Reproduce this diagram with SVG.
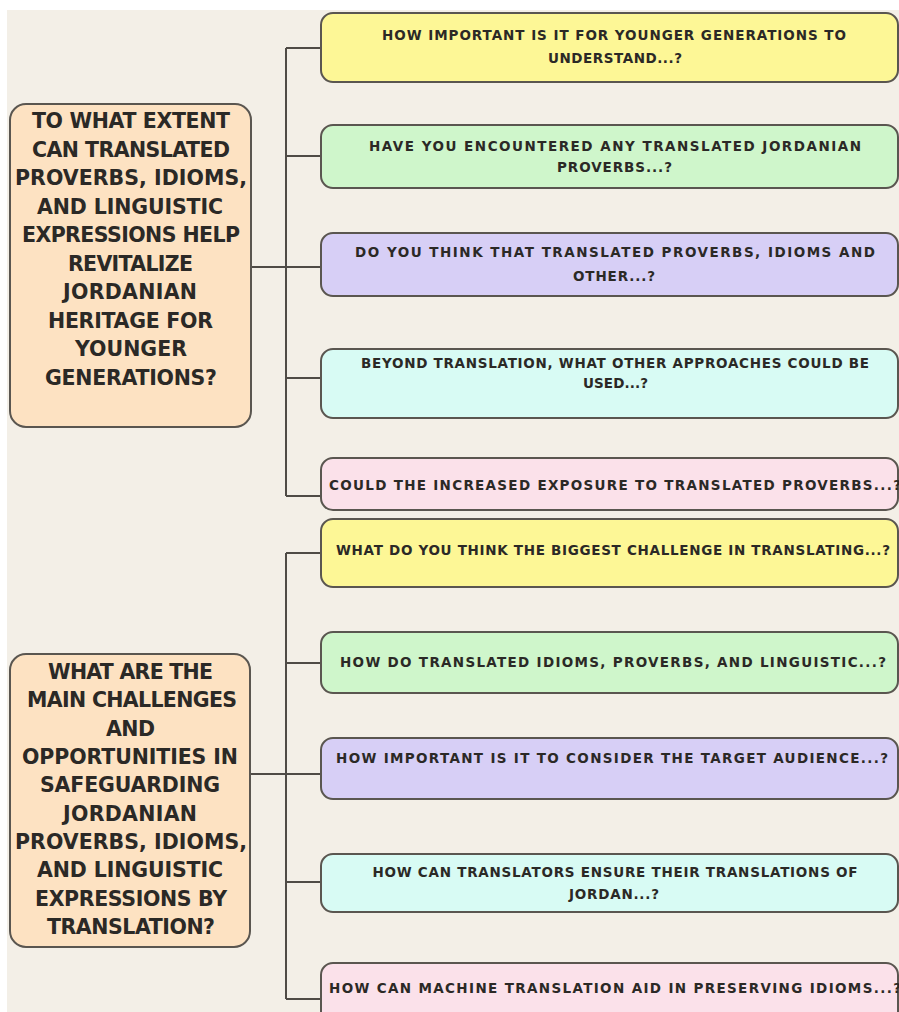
<svg xmlns="http://www.w3.org/2000/svg" width="899" height="1012" viewBox="0 0 899 1012">
<style>
.bg{fill:#f3efe7}
.main{fill:#fde2c2;stroke:#5a5650;stroke-width:2}
.q{stroke:#5a5650;stroke-width:2}
.yel{fill:#fdf796}.grn{fill:#cff6cb}.pur{fill:#d7cff6}.cyn{fill:#d8fbf4}.pnk{fill:#fbe1ea}
.lt{font-family:"DejaVu Sans","Liberation Sans",sans-serif;font-weight:bold;font-size:20.5px;fill:#2b2926;text-anchor:middle}
.st{font-family:"DejaVu Sans","Liberation Sans",sans-serif;font-weight:bold;font-size:13.5px;fill:#2b2926;text-anchor:middle}
.sl{text-anchor:start}
.conn{fill:none;stroke:#4f4b46;stroke-width:2}
</style>
<rect x="0" y="0" width="899" height="1012" fill="#ffffff"/>
<rect class="bg" x="7" y="10" width="892" height="1002"/>
<g id="connectors">
<path class="conn" d="M251,267H286M286,48V496M286,48H321M286,156H321M286,267H321M286,378H321M286,496H321"/>
<path class="conn" d="M250,774H286M286,553V999M286,553H321M286,663H321M286,774H321M286,882H321M286,999H321"/>
</g>
<g id="main1">
<rect class="main" x="10" y="104" width="241" height="323" rx="16"/>
<text class="lt" x="131" y="128" textLength="198" lengthAdjust="spacing">TO WHAT EXTENT</text>
<text class="lt" x="131" y="156.5" textLength="198" lengthAdjust="spacing">CAN TRANSLATED</text>
<text class="lt" x="131" y="185" textLength="232" lengthAdjust="spacing">PROVERBS, IDIOMS,</text>
<text class="lt" x="130" y="213.5" textLength="186" lengthAdjust="spacing">AND LINGUISTIC</text>
<text class="lt" x="131" y="242" textLength="218" lengthAdjust="spacing">EXPRESSIONS HELP</text>
<text class="lt" x="130.5" y="270.5" textLength="125" lengthAdjust="spacing">REVITALIZE</text>
<text class="lt" x="130" y="299" textLength="134" lengthAdjust="spacing">JORDANIAN</text>
<text class="lt" x="130.5" y="327.5" textLength="165" lengthAdjust="spacing">HERITAGE FOR</text>
<text class="lt" x="131" y="356" textLength="112" lengthAdjust="spacing">YOUNGER</text>
<text class="lt" x="131" y="384.5" textLength="172" lengthAdjust="spacing">GENERATIONS?</text>
</g>
<g id="main2">
<rect class="main" x="10" y="654" width="240" height="293" rx="16"/>
<text class="lt" x="130.5" y="679" textLength="165" lengthAdjust="spacing">WHAT ARE THE</text>
<text class="lt" x="132" y="707.3" textLength="210" lengthAdjust="spacing">MAIN CHALLENGES</text>
<text class="lt" x="130.5" y="735.6" textLength="49" lengthAdjust="spacing">AND</text>
<text class="lt" x="130" y="764" textLength="216" lengthAdjust="spacing">OPPORTUNITIES IN</text>
<text class="lt" x="130" y="792.3" textLength="180" lengthAdjust="spacing">SAFEGUARDING</text>
<text class="lt" x="130" y="820.6" textLength="134" lengthAdjust="spacing">JORDANIAN</text>
<text class="lt" x="131" y="849" textLength="232" lengthAdjust="spacing">PROVERBS, IDIOMS,</text>
<text class="lt" x="130" y="877.3" textLength="186" lengthAdjust="spacing">AND LINGUISTIC</text>
<text class="lt" x="131" y="905.6" textLength="192" lengthAdjust="spacing">EXPRESSIONS BY</text>
<text class="lt" x="131" y="934" textLength="168" lengthAdjust="spacing">TRANSLATION?</text>
</g>
<g id="q1">
<rect class="q yel" x="321" y="13" width="577" height="69" rx="12"/>
<text class="st" x="614" y="40" textLength="464" lengthAdjust="spacing">HOW IMPORTANT IS IT FOR YOUNGER GENERATIONS TO</text>
<text class="st" x="615" y="62.5" textLength="134" lengthAdjust="spacing">UNDERSTAND...?</text>
</g>
<g id="q2">
<rect class="q grn" x="321" y="125" width="577" height="63" rx="12"/>
<text class="st" x="615" y="150.5" textLength="492" lengthAdjust="spacing">HAVE YOU ENCOUNTERED ANY TRANSLATED JORDANIAN</text>
<text class="st" x="614.5" y="171.5" textLength="115" lengthAdjust="spacing">PROVERBS...?</text>
</g>
<g id="q3">
<rect class="q pur" x="321" y="233" width="577" height="63" rx="12"/>
<text class="st" x="615" y="257" textLength="520" lengthAdjust="spacing">DO YOU THINK THAT TRANSLATED PROVERBS, IDIOMS AND</text>
<text class="st" x="614" y="280.5" textLength="82" lengthAdjust="spacing">OTHER...?</text>
</g>
<g id="q4">
<rect class="q cyn" x="321" y="349" width="577" height="69" rx="12"/>
<text class="st" x="615" y="368" textLength="508" lengthAdjust="spacing">BEYOND TRANSLATION, WHAT OTHER APPROACHES COULD BE</text>
<text class="st" x="615.5" y="388" textLength="65" lengthAdjust="spacing">USED...?</text>
</g>
<g id="q5">
<rect class="q pnk" x="321" y="458" width="577" height="52" rx="12"/>
<text class="st sl" x="329" y="490" textLength="572" lengthAdjust="spacing">COULD THE INCREASED EXPOSURE TO TRANSLATED PROVERBS...?</text>
</g>
<g id="q6">
<rect class="q yel" x="321" y="519" width="577" height="68" rx="12"/>
<text class="st" x="613" y="555" textLength="554" lengthAdjust="spacing">WHAT DO YOU THINK THE BIGGEST CHALLENGE IN TRANSLATING...?</text>
</g>
<g id="q7">
<rect class="q grn" x="321" y="632" width="577" height="61" rx="12"/>
<text class="st" x="613" y="666.5" textLength="546" lengthAdjust="spacing">HOW DO TRANSLATED IDIOMS, PROVERBS, AND LINGUISTIC...?</text>
</g>
<g id="q8">
<rect class="q pur" x="321" y="738" width="577" height="61" rx="12"/>
<text class="st" x="612" y="763" textLength="552" lengthAdjust="spacing">HOW IMPORTANT IS IT TO CONSIDER THE TARGET AUDIENCE...?</text>
</g>
<g id="q9">
<rect class="q cyn" x="321" y="854" width="577" height="58" rx="12"/>
<text class="st" x="615" y="876.5" textLength="485" lengthAdjust="spacing">HOW CAN TRANSLATORS ENSURE THEIR TRANSLATIONS OF</text>
<text class="st" x="614" y="898.5" textLength="90" lengthAdjust="spacing">JORDAN...?</text>
</g>
<g id="q10">
<rect class="q pnk" x="321" y="963" width="577" height="60" rx="12"/>
<text class="st sl" x="329" y="993" textLength="572" lengthAdjust="spacing">HOW CAN MACHINE TRANSLATION AID IN PRESERVING IDIOMS...?</text>
</g>
</svg>
